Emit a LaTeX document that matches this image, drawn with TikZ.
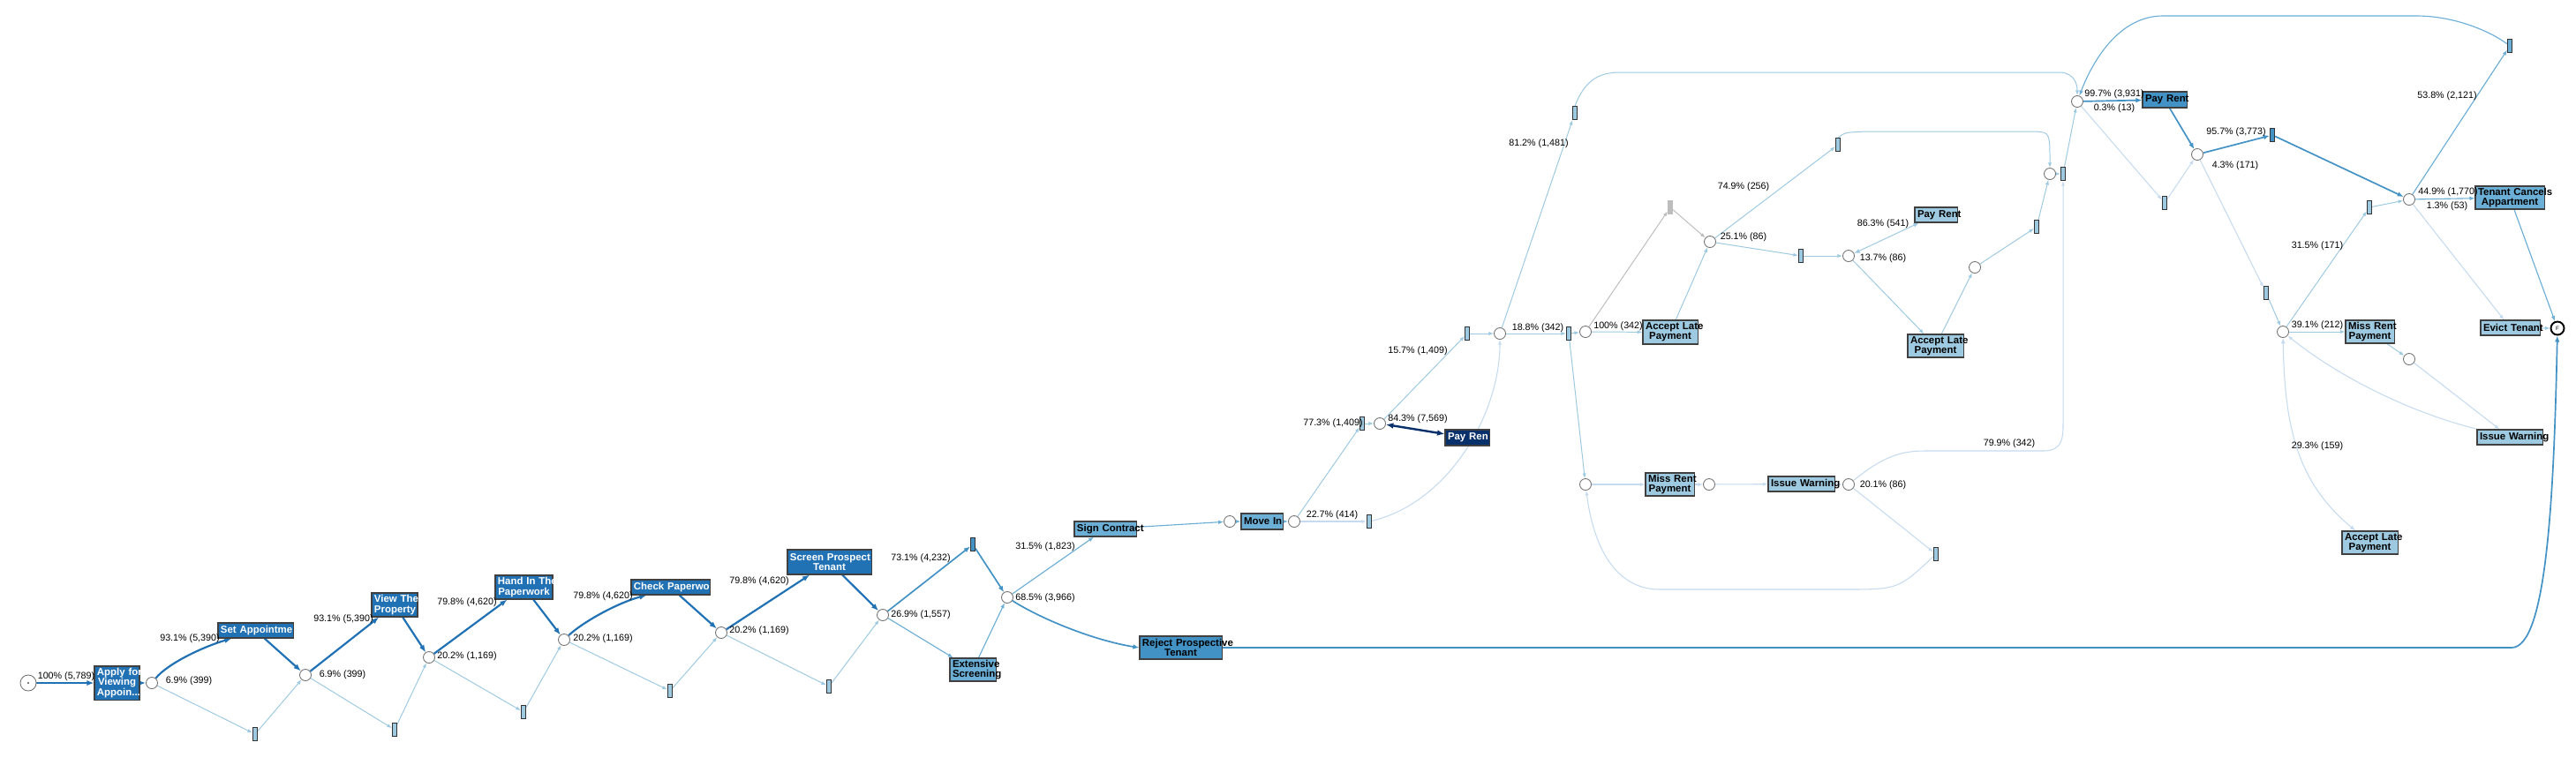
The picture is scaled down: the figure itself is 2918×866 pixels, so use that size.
\documentclass[tikz,border=0pt]{standalone}
\usepackage{fontspec}
\setmainfont{Liberation Sans}
\usetikzlibrary{arrows.meta,backgrounds}
\definecolor{navy}{HTML}{08306B}
\definecolor{bdark}{HTML}{2171B5}
\definecolor{bmid}{HTML}{4292C6}
\definecolor{blite}{HTML}{6BAED6}
\definecolor{bpale}{HTML}{9ECAE1}
\definecolor{bfaint}{HTML}{C6DBEF}
\definecolor{tgrey}{HTML}{BDBDBD}
\newcommand{\actfont}{\fontsize{3.25pt}{3.15pt}\selectfont\bfseries\hyphenpenalty=10000}
\newcommand{\lblfont}{\fontsize{3.05pt}{3.4pt}\selectfont}
\tikzset{
  act/.style={draw=black!75, line width=0.3pt, inner xsep=0.03cm, inner ysep=0pt, align=center, font=\actfont},
  place/.style={circle, draw=black!55, fill=white, line width=0.25pt, minimum size=0.13cm, inner sep=0pt},
  tau/.style={draw=black!80, fill=bpale, line width=0.3pt, minimum width=0.05cm, minimum height=0.15cm, inner sep=0pt},
  lbl/.style={font=\lblfont, inner sep=0pt},
  heavy/.style={draw=bdark, line width=0.62pt, -{Latex[length=2.3pt,width=1.8pt]}},
  midedge/.style={draw=bmid, line width=0.48pt, -{Latex[length=2pt,width=1.6pt]}},
  liteedge/.style={draw=blite, line width=0.32pt, -{Latex[length=1.7pt,width=1.3pt]}},
  paleedge/.style={draw=bpale, line width=0.28pt, -{Latex[length=1.6pt,width=1.2pt]}},
  faintedge/.style={draw=bfaint, line width=0.3pt, -{Latex[length=1.6pt,width=1.2pt]}},
  greyedge/.style={draw=tgrey, line width=0.28pt, -{Latex[length=1.6pt,width=1.2pt]}},
  both/.style={{Latex[length=1.8pt,width=1.4pt]}-{Latex[length=1.8pt,width=1.4pt]}}
}

\begin{document}
\begin{tikzpicture}[x=0.01cm,y=-0.01cm]
\useasboundingbox (0,0) rectangle (2918,866);

% activities
\node[act, fill=bdark, text=white, text width=0.45cm, minimum height=0.38cm] (apply) at (132.5,774) {Apply~for\\Viewing\\Appoin...};
\node[act, fill=bdark, text=white, text width=0.79cm, minimum height=0.17cm] (setapp) at (289.5,714.5) {Set~Appointme};
\node[act, fill=bdark, text=white, text width=0.46cm, minimum height=0.27cm] (view) at (447,685.5) {View~The\\Property};
\node[act, fill=bdark, text=white, text width=0.59cm, minimum height=0.27cm] (handin) at (593.5,665.5) {Hand~In~The\\Paperwork};
\node[act, fill=bdark, text=white, text width=0.83cm, minimum height=0.17cm] (check) at (759.5,665.5) {Check~Paperwo};
\node[act, fill=bdark, text=white, text width=0.89cm, minimum height=0.28cm] (screen) at (939.5,637) {Screen~Prospect\\Tenant};
\node[act, fill=blite, text width=0.46cm, minimum height=0.26cm] (extscr) at (1102,759) {Extensive\\Screening};
\node[act, fill=bmid, text width=0.87cm, minimum height=0.26cm] (reject) at (1337.5,734) {Reject~Prospective\\Tenant};
\node[act, fill=blite, text width=0.64cm, minimum height=0.17cm] (sign) at (1252,599.5) {Sign~Contract};
\node[act, fill=blite, text width=0.41cm, minimum height=0.18cm] (movein) at (1429.5,591) {Move~In};
\node[act, fill=navy, text=white, text width=0.44cm, minimum height=0.18cm] (payA) at (1662,496) {Pay~Ren};
\node[act, fill=bpale, text width=0.56cm, minimum height=0.27cm] (lateA) at (1892,376.5) {Accept~Late\\Payment};
\node[act, fill=bpale, text width=0.42cm, minimum height=0.17cm] (payB) at (2193,243.5) {Pay~Rent};
\node[act, fill=bpale, text width=0.57cm, minimum height=0.26cm] (lateB) at (2192.5,392) {Accept~Late\\Payment};
\node[act, fill=bpale, text width=0.49cm, minimum height=0.26cm] (missA) at (1891.5,549) {Miss~Rent\\Payment};
\node[act, fill=bpale, text width=0.69cm, minimum height=0.17cm] (warnA) at (2040.5,548.5) {Issue~Warning};
\node[act, fill=bmid, text width=0.44cm, minimum height=0.18cm] (payC) at (2452,113) {Pay~Rent};
\node[act, fill=blite, text width=0.72cm, minimum height=0.26cm] (cancel) at (2843,224) {Tenant~Cancels\\Appartment};
\node[act, fill=bpale, text width=0.61cm, minimum height=0.17cm] (evict) at (2843.5,371.5) {Evict~Tenant};
\node[act, fill=bpale, text width=0.49cm, minimum height=0.26cm] (missB) at (2684.5,376) {Miss~Rent\\Payment};
\node[act, fill=bpale, text width=0.68cm, minimum height=0.17cm] (warnB) at (2843,495.5) {Issue~Warning};
\node[act, fill=bpale, text width=0.57cm, minimum height=0.26cm] (lateC) at (2684.5,615) {Accept~Late\\Payment};

% places
\node[place, minimum size=0.18cm] (start) at (32,774) {};
\fill[black!70] (start.center) circle (0.3pt);
\node[place] (p1) at (172,774) {};
\node[place] (p2) at (346,765) {};
\node[place] (p3) at (486,745) {};
\node[place] (p4) at (639,725) {};
\node[place] (p5) at (817,717) {};
\node[place] (p6) at (1000,697) {};
\node[place] (p7) at (1141,677) {};
\node[place] (p8) at (1393,591) {};
\node[place] (p9) at (1466,591) {};
\node[place] (p10) at (1563,480) {};
\node[place] (p11) at (1699,378) {};
\node[place] (p12) at (1796,376) {};
\node[place] (p13) at (1937,274) {};
\node[place] (p14) at (2094,290) {};
\node[place] (p15) at (2237,303) {};
\node[place] (p16) at (2322,197) {};
\node[place] (p17) at (2353,115) {};
\node[place] (p18) at (2489,175) {};
\node[place] (p19) at (2729,226) {};
\node[place] (p20) at (2586,376) {};
\node[place] (p21) at (2729,407) {};
\node[place] (p22) at (1796,549) {};
\node[place] (p23) at (1936,549) {};
\node[place] (p24) at (2094,549) {};
\node[place, draw=black, line width=0.55pt, minimum size=0.15cm, font=\fontsize{1.8pt}{2pt}\selectfont] (fin) at (2897,372) {F};

% silent steps
\node[tau] (t1) at (289,832) {};
\node[tau] (t2) at (447,827) {};
\node[tau] (t3) at (593,807) {};
\node[tau] (t4) at (759,783) {};
\node[tau] (t5) at (939,778) {};
\node[tau, fill=bmid] (t6) at (1102,617) {};
\node[tau] (t7) at (1543,480) {};
\node[tau] (t8) at (1551,591) {};
\node[tau] (t9) at (1662,378) {};
\node[tau] (t10) at (1784,128) {};
\node[tau] (t11) at (1777,378) {};
\node[tau, fill=tgrey, draw=tgrey] (t12) at (1892,235) {};
\node[tau] (t13) at (2040,290) {};
\node[tau] (t14) at (2082,164) {};
\node[tau] (t15) at (2307,257) {};
\node[tau] (t16) at (2337,197) {};
\node[tau] (t17) at (2452,230) {};
\node[tau, fill=bmid] (t18) at (2574,153) {};
\node[tau] (t19) at (2567,332) {};
\node[tau] (t20) at (2684,235) {};
\node[tau, fill=blite] (t21) at (2843,52) {};
\node[tau] (t22) at (2193,628) {};

% frequencies
\node[lbl] (l01) at (75,767) {100\% (5,789)};
\node[lbl] (l02) at (215,724) {93.1\% (5,390)};
\node[lbl] (l03) at (214,772) {6.9\% (399)};
\node[lbl] (l04) at (389,702) {93.1\% (5,390)};
\node[lbl] (l05) at (388,765) {6.9\% (399)};
\node[lbl] (l06) at (529,683) {79.8\% (4,620)};
\node[lbl] (l07) at (529,744) {20.2\% (1,169)};
\node[lbl] (l08) at (683,676) {79.8\% (4,620)};
\node[lbl] (l09) at (683,724) {20.2\% (1,169)};
\node[lbl] (l10) at (860,659) {79.8\% (4,620)};
\node[lbl] (l11) at (860,715) {20.2\% (1,169)};
\node[lbl] (l12) at (1043,633) {73.1\% (4,232)};
\node[lbl] (l13) at (1043,697) {26.9\% (1,557)};
\node[lbl] (l14) at (1184,620) {31.5\% (1,823)};
\node[lbl] (l15) at (1184,678) {68.5\% (3,966)};
\node[lbl] (l16) at (1509,584) {22.7\% (414)};
\node[lbl] (l17) at (1510,480) {77.3\% (1,409)};
\node[lbl] (l18) at (1606,475) {84.3\% (7,569)};
\node[lbl] (l19) at (1606,398) {15.7\% (1,409)};
\node[lbl] (l20) at (1743,163) {81.2\% (1,481)};
\node[lbl] (l21) at (1742,372) {18.8\% (342)};
\node[lbl] (l22) at (1833,370) {100\% (342)};
\node[lbl] (l23) at (1975,212) {74.9\% (256)};
\node[lbl] (l24) at (1975,269) {25.1\% (86)};
\node[lbl] (l25) at (2133,254) {86.3\% (541)};
\node[lbl] (l26) at (2133,293) {13.7\% (86)};
\node[lbl] (l27) at (2133,550) {20.1\% (86)};
\node[lbl] (l28) at (2276,503) {79.9\% (342)};
\node[lbl] (l29) at (2395,107) {99.7\% (3,931)};
\node[lbl] (l30) at (2395,123) {0.3\% (13)};
\node[lbl] (l31) at (2533,150) {95.7\% (3,773)};
\node[lbl] (l32) at (2532,188) {4.3\% (171)};
\node[lbl] (l33) at (2772,109) {53.8\% (2,121)};
\node[lbl] (l34) at (2773,218) {44.9\% (1,770)};
\node[lbl] (l35) at (2772,234) {1.3\% (53)};
\node[lbl] (l36) at (2625,279) {31.5\% (171)};
\node[lbl] (l37) at (2625,369) {39.1\% (212)};
\node[lbl] (l38) at (2625,506) {29.3\% (159)};

\begin{scope}[on background layer]
\fill[white] (0,0) rectangle (2918,866);
\draw[heavy] (start) -- (apply);
\draw[heavy] (apply) -- (p1);
\draw[heavy] (p1) .. controls (190,752) and (230,733) .. ([xshift=0.16cm]setapp.south west);
\draw[heavy] (setapp) -- (p2);
\draw[heavy] (p2) -- (view);
\draw[heavy] (view) -- (p3);
\draw[heavy] (p3) -- (handin);
\draw[heavy] (handin) -- (p4);
\draw[heavy] (p4) .. controls (660,705) and (700,683) .. ([xshift=0.18cm]check.south west);
\draw[heavy] (check) -- (p5);
\draw[heavy] (p5) -- (screen);
\draw[heavy] (screen) -- (p6);
\draw[paleedge] (p1) -- (t1);
\draw[paleedge] (t1) -- (p2);
\draw[paleedge] (p2) -- (t2);
\draw[paleedge] (t2) -- (p3);
\draw[paleedge] (p3) -- (t3);
\draw[paleedge] (t3) -- (p4);
\draw[paleedge] (p4) -- (t4);
\draw[paleedge] (t4) -- (p5);
\draw[paleedge] (p5) -- (t5);
\draw[paleedge] (t5) -- (p6);
\draw[midedge] (p6) -- (t6);
\draw[midedge] (t6) -- (p7);
\draw[liteedge] (p6) -- (extscr);
\draw[liteedge] (extscr) -- (p7);
\draw[liteedge] (p7) -- (sign);
\draw[midedge] (p7) .. controls (1180,702) and (1240,726) .. (reject.west);
\draw[midedge] (reject) -- (2845,734) .. controls (2885,734) and (2893,560) .. (fin);
\draw[liteedge] (sign) -- (p8);
\draw[liteedge] (p8) -- (movein);
\draw[liteedge] (movein) -- (p9);
\draw[paleedge] (p9) -- (t7);
\draw[faintedge] (p9) -- (t8);
\draw[paleedge] (t7) -- (p10);
\draw[draw=navy, line width=0.68pt, {Latex[length=2.4pt,width=1.9pt]}-{Latex[length=2.4pt,width=1.9pt]}] (p10) -- (payA);
\draw[paleedge] (p10) -- (t9);
\draw[paleedge] (t9) -- (p11);
\draw[faintedge] (t8) .. controls (1640,570) and (1699,470) .. (p11);
\draw[paleedge] (p11) -- (t10);
\draw[paleedge] (t10.north) .. controls (1795,92) and (1810,82) .. (1835,82) -- (2335,82) .. controls (2350,84) and (2353,95) .. (p17);
\draw[paleedge] (p11) -- (t11);
\draw[paleedge] (t11) -- (p12);
\draw[paleedge] (t11) -- (p22);
\draw[paleedge] (p12) -- (lateA);
\draw[greyedge] (p12) -- (t12);
\draw[greyedge] (t12) -- (p13);
\draw[paleedge] (lateA) -- (p13);
\draw[paleedge] (p13) -- (t14);
\draw[paleedge] (p13) -- (t13);
\draw[paleedge] (t13) -- (p14);
\draw[paleedge, both] (p14) -- (payB);
\draw[paleedge] (p14) -- (lateB);
\draw[paleedge] (lateB) -- (p15);
\draw[paleedge] (p15) -- (t15);
\draw[paleedge] (t15) -- (p16);
\draw[paleedge] (t14.north) .. controls (2090,150) .. (2115,149) -- (2305,149) .. controls (2322,150) .. (p16);
\draw[paleedge] (p16) -- (t16);
\draw[paleedge] (t16) -- (p17);
\draw[faintedge] (p22) -- (missA);
\draw[faintedge] (missA) -- (p23);
\draw[faintedge] (p23) -- (warnA);
\draw[faintedge] (warnA) -- (p24);
\draw[faintedge] (p24) -- (t22);
\draw[faintedge] (t22) .. controls (2150,668) .. (2090,668) -- (1880,668) .. controls (1830,668) and (1805,620) .. (p22);
\draw[faintedge] (p24) .. controls (2130,520) and (2150,511) .. (2180,511) -- (2315,511) .. controls (2337,511) and (2337,495) .. (2337,480) -- (t16);
\draw[midedge] (p17) -- (payC);
\draw[midedge] (payC) -- (p18);
\draw[midedge] (p18) -- (t18);
\draw[midedge] (t18) -- (p19);
\draw[faintedge] (p17) -- (t17);
\draw[faintedge] (t17) -- (p18);
\draw[faintedge] (p18) -- (t19);
\draw[paleedge] (t19) -- (p20);
\draw[liteedge] (p19) -- (t21);
\draw[liteedge] (t21) .. controls (2820,35) and (2780,18) .. (2737,18) -- (2450,18) .. controls (2400,18) and (2370,70) .. (p17);
\draw[liteedge] (p19) -- (cancel);
\draw[liteedge] (cancel) -- (fin);
\draw[faintedge] (p19) -- (evict);
\draw[paleedge] (evict) -- (fin);
\draw[paleedge] (p20) -- (t20);
\draw[paleedge] (t20) -- (p19);
\draw[paleedge] (p20) -- (missB);
\draw[paleedge] (missB) -- (p21);
\draw[faintedge] (p21) -- (warnB);
\draw[faintedge] (warnB) .. controls (2720,465) and (2640,420) .. (p20);
\draw[faintedge, both] (p20) .. controls (2588,480) and (2600,545) .. (lateC);
\end{scope}
\end{tikzpicture}
\end{document}
